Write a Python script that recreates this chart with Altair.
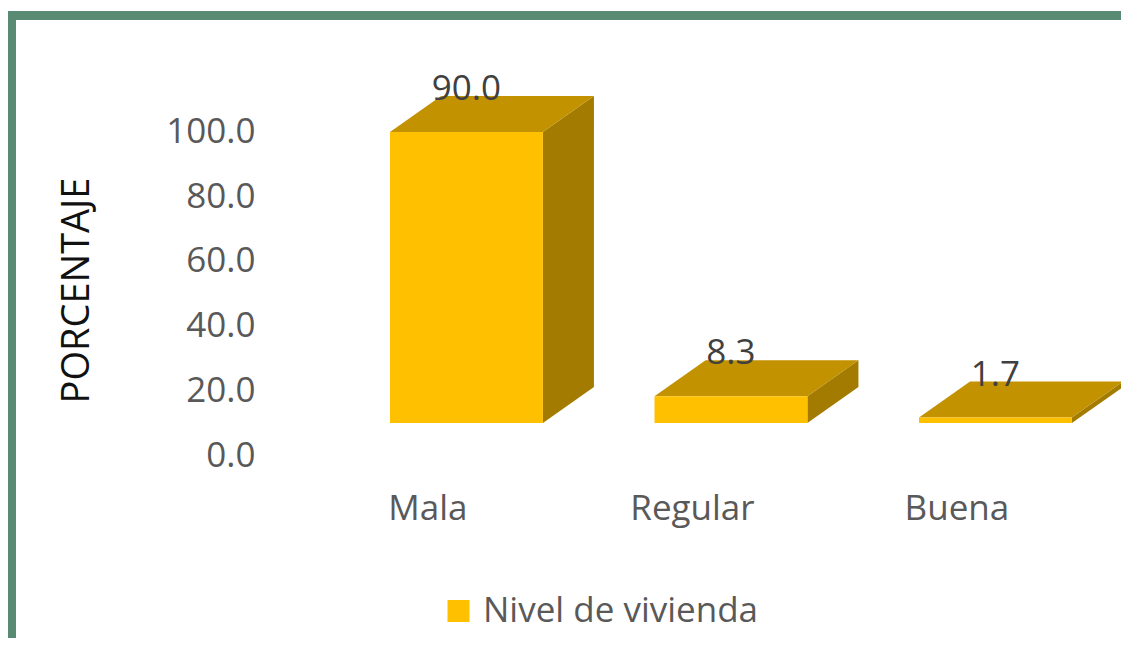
import altair as alt
import pandas as pd

# ---- data ----
categories = ["Mala", "Regular", "Buena"]
values = [90.0, 8.3, 1.7]
series_name = "Nivel de vivienda"
y_ticks = [0, 20, 40, 60, 80, 100]

# ---- 3D bar geometry (style constants, in scale units) ----
HALF = 0.289   # half of bar front width (category units)
DX = 0.193     # depth offset along x (category units)
DY = 11.1      # depth offset along y (value units)

idx = list(range(len(categories)))

front = pd.DataFrame({"cat": categories, "i": idx, "value": values})
front["series"] = series_name
front["x0"] = front["i"] - HALF
front["x1"] = front["i"] + HALF
front["base"] = 0.0
front["label"] = [f"{v:.1f}" for v in values]

side_rows, top_rows = [], []
for c, i, v in zip(categories, idx, values):
    side_rows.append({"cat": c, "x": i + HALF, "y": v, "y2": 0.0})
    side_rows.append({"cat": c, "x": i + HALF + DX, "y": v + DY, "y2": DY})
    top_rows.append({"cat": c, "y": v, "x": i - HALF, "x2": i + HALF})
    top_rows.append({"cat": c, "y": v + DY, "x": i - HALF + DX, "x2": i + HALF + DX})
side = pd.DataFrame(side_rows)
top = pd.DataFrame(top_rows)

FONT = "Open Sans"
GRAY = "#595959"

xscale = alt.Scale(domain=[-1.72, 2.59], nice=False, zero=False)
yscale = alt.Scale(domain=[-72.5, 126.0], nice=False, zero=False)

label_expr = "[" + ",".join(f"'{c}'" for c in categories) + "][datum.value]"

xaxis = alt.Axis(
    values=idx, labelExpr=label_expr, title=None, orient="bottom",
    offset=-138.5, labelBaseline="alphabetic", labelPadding=0, labelOffset=-39,
    labelFlush=False, domain=False, ticks=False, tickSize=0, grid=False,
    labelFont=FONT, labelFontSize=35, labelColor=GRAY,
)
yaxis = alt.Axis(
    values=y_ticks, format=".1f", title="PORCENTAJE", orient="left",
    offset=-243.5, labelPadding=0, labelOffset=32, domain=False, ticks=False,
    tickSize=0, grid=False, labelFont=FONT, labelFontSize=35, labelColor=GRAY,
    labelFlush=False,
    titleFont=FONT, titleFontSize=38, titleFontWeight="normal", titleColor="#111111",
    titleX=-178, titleY=274.5, titleAngle=270, titleAlign="center", titleBaseline="middle",
)

side_layer = alt.Chart(side).mark_area(color="#A37B00", orient="vertical", interpolate="linear").encode(
    x=alt.X("x:Q", scale=xscale, axis=xaxis),
    y=alt.Y("y:Q", scale=yscale, axis=yaxis),
    y2="y2:Q",
    detail="cat:N",
)

top_layer = alt.Chart(top).mark_area(color="#C29200", orient="horizontal", interpolate="linear").encode(
    y=alt.Y("y:Q", scale=yscale, axis=yaxis),
    x=alt.X("x:Q", scale=xscale, axis=xaxis),
    x2="x2:Q",
    detail="cat:N",
)

front_layer = alt.Chart(front).mark_rect().encode(
    x=alt.X("x0:Q", scale=xscale, axis=xaxis),
    x2="x1:Q",
    y=alt.Y("value:Q", scale=yscale, axis=yaxis),
    y2="base:Q",
    color=alt.Color(
        "series:N",
        scale=alt.Scale(domain=[series_name], range=["#FFC000"]),
        legend=alt.Legend(
            orient="none", legendX=429.5, legendY=578, title=None,
            symbolType="square", symbolSize=484, symbolStrokeWidth=0,
            labelFont=FONT, labelFontSize=35, labelColor=GRAY, labelOffset=7,
            labelLimit=0, padding=0,
        ),
    ),
)

text_layer = alt.Chart(front).mark_text(
    font=FONT, fontSize=35, color="#404040", baseline="middle", align="center", dy=-43
).encode(
    x=alt.X("i:Q", scale=xscale, axis=xaxis),
    y=alt.Y("value:Q", scale=yscale, axis=yaxis),
    text="label:N",
)

chart = (
    alt.layer(side_layer, top_layer, front_layer, text_layer)
    .properties(
        width=1140, height=642,
        autosize=alt.AutoSizeParams(type="none"),
        padding={"left": 3.5, "top": 7.5, "right": -30.5, "bottom": -20},
        background="#FFFFFF",
    )
    .configure_view(stroke="#588A74", strokeWidth=9, fill="#FFFFFF")
)

chart.save("out.html", embed_options={"renderer": "svg", "actions": False})
